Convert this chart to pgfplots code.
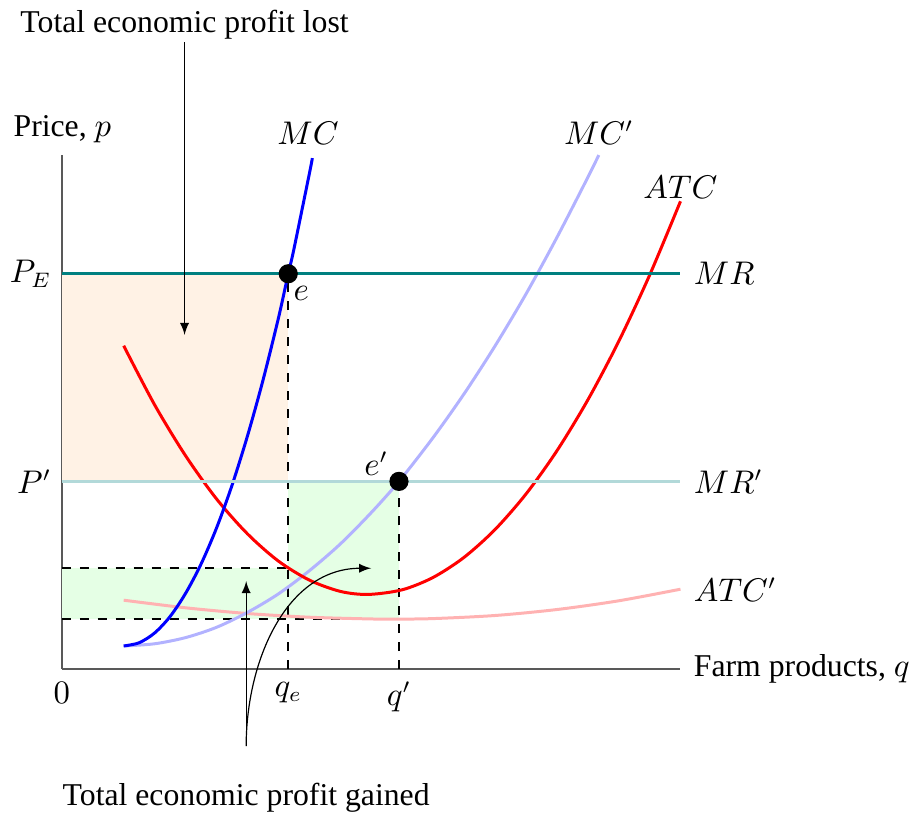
\documentclass[border=0pt]{standalone}
\usepackage{fontspec}
\setmainfont{Liberation Serif}
\usepackage{pgfplots}
\pgfplotsset{compat=1.18}
\tikzset{rlabel/.style={anchor=west, inner sep=0pt, xshift=4.3pt}}
\begin{document}
\begin{tikzpicture}
\begin{axis}[
  scale only axis,
  width=206.7pt, height=171.7pt,
  xmin=0, xmax=10, ymin=0, ymax=10,
  axis lines=left,
  axis line style={-, black!65, line width=0.6pt},
  xtick=\empty, ytick=\empty,
  clip=false,
  font=\fontsize{10.6}{12.7}\selectfont,
]
% shaded profit areas
\addplot[draw=none, fill=orange!10] coordinates {(0,3.65) (3.66,3.65) (3.66,7.69) (0,7.69)} -- cycle;
\addplot[draw=none, fill=green!10] coordinates {(3.66,0.97) (5.45,0.97) (5.45,3.65) (3.66,3.65)} -- cycle;
\addplot[draw=none, fill=green!10] coordinates {(0,0.97) (3.66,0.97) (3.66,1.96) (0,1.96)} -- cycle;

% dashed guides
\addplot[black, dashed, line width=0.75pt] coordinates {(3.66,0) (3.66,7.69)};
\addplot[black, dashed, line width=0.75pt] coordinates {(5.45,0) (5.45,3.65)};
\addplot[black, dashed, line width=0.75pt] coordinates {(0,1.96) (3.66,1.96)};
\addplot[black, dashed, line width=0.75pt] coordinates {(0,0.97) (5.45,0.97)};

% ATC'
\addplot[red!30, line width=1pt, smooth] coordinates {
  (1,1.338) (2,1.19) (3,1.079) (4,1.007) (5,0.973) (5.4,0.97)
  (6,0.98) (7,1.04) (8,1.156) (9,1.326) (10,1.552)};
% MC'
\addplot[blue!30, line width=1pt, smooth] coordinates {
  (1,0.447) (1.5,0.49) (2,0.61) (2.5,0.81) (3,1.10) (3.5,1.46) (4,1.91)
  (4.5,2.43) (5,3.04) (5.45,3.65) (6,4.50) (6.5,5.35) (7,6.28) (7.5,7.29)
  (8,8.39) (8.5,9.56) (8.68,10.0)};
% ATC
\addplot[red, line width=1pt, smooth] coordinates {
  (1,6.29) (1.5,5.14) (2,4.15) (2.5,3.31) (3,2.63) (3.5,2.10) (4,1.73)
  (4.5,1.51) (4.95,1.45) (5.5,1.54) (6,1.78) (6.5,2.17) (7,2.71) (7.5,3.40)
  (8,4.24) (8.5,5.23) (9,6.37) (9.5,7.66) (10,9.10)};
% MC
\addplot[blue, line width=1pt, smooth] coordinates {
  (1,0.447) (1.25,0.51) (1.5,0.70) (1.75,1.02) (2,1.47) (2.25,2.04)
  (2.5,2.74) (2.75,3.57) (3,4.53) (3.25,5.61) (3.5,6.82) (3.66,7.69)
  (3.75,8.16) (4,9.63) (4.05,9.94)};

% marginal revenue
\addplot[teal!30, line width=1pt] coordinates {(0,3.65) (10,3.65)};
\addplot[teal, line width=1pt] coordinates {(0,7.69) (10,7.69)};

% equilibria
\addplot[only marks, mark=*, mark size=3pt, black] coordinates {(3.66,7.69) (5.45,3.65)};

% labels
\node[anchor=west] at (axis cs:-0.95,10.5) {Price, $p$};
\node at (axis cs:3.98,10.43) {$MC$};
\node at (axis cs:8.68,10.43) {$MC'$};
\node at (axis cs:10.0,9.38) {$ATC$};
\node[rlabel] at (axis cs:10,7.69) {$MR$};
\node[rlabel] at (axis cs:10,3.65) {$MR'$};
\node[rlabel] at (axis cs:10,1.55) {$ATC'$};
\node[rlabel] at (axis cs:10,0) {Farm products, $q$};
\node[anchor=east] at (axis cs:0,7.69) {$P_E$};
\node[anchor=east] at (axis cs:0,3.65) {$P'$};
\node[anchor=north] at (axis cs:0,-0.05) {$0$};
\node[anchor=north] at (axis cs:3.66,-0.05) {$q_e$};
\node[anchor=north] at (axis cs:5.45,-0.05) {$q'$};
\node at (axis cs:3.87,7.31) {$e$};
\node at (axis cs:5.08,4.0) {$e'$};

% annotations
\node at (axis cs:1.984,12.54) {Total economic profit lost};
\draw[-latex] (axis cs:1.984,12.19) -- (axis cs:1.984,6.50);
\node at (axis cs:2.98,-2.50) {Total economic profit gained};
\draw[-latex] (axis cs:2.98,-1.50) -- (axis cs:2.98,1.71);
\draw[-latex] (axis cs:2.98,-1.50) to[out=90, in=180] (axis cs:5.0,1.96);

% frame matching the reference canvas
\path (axis cs:-0.968,-2.854) rectangle (axis cs:13.71,12.97);
\end{axis}
\end{tikzpicture}
\end{document}
